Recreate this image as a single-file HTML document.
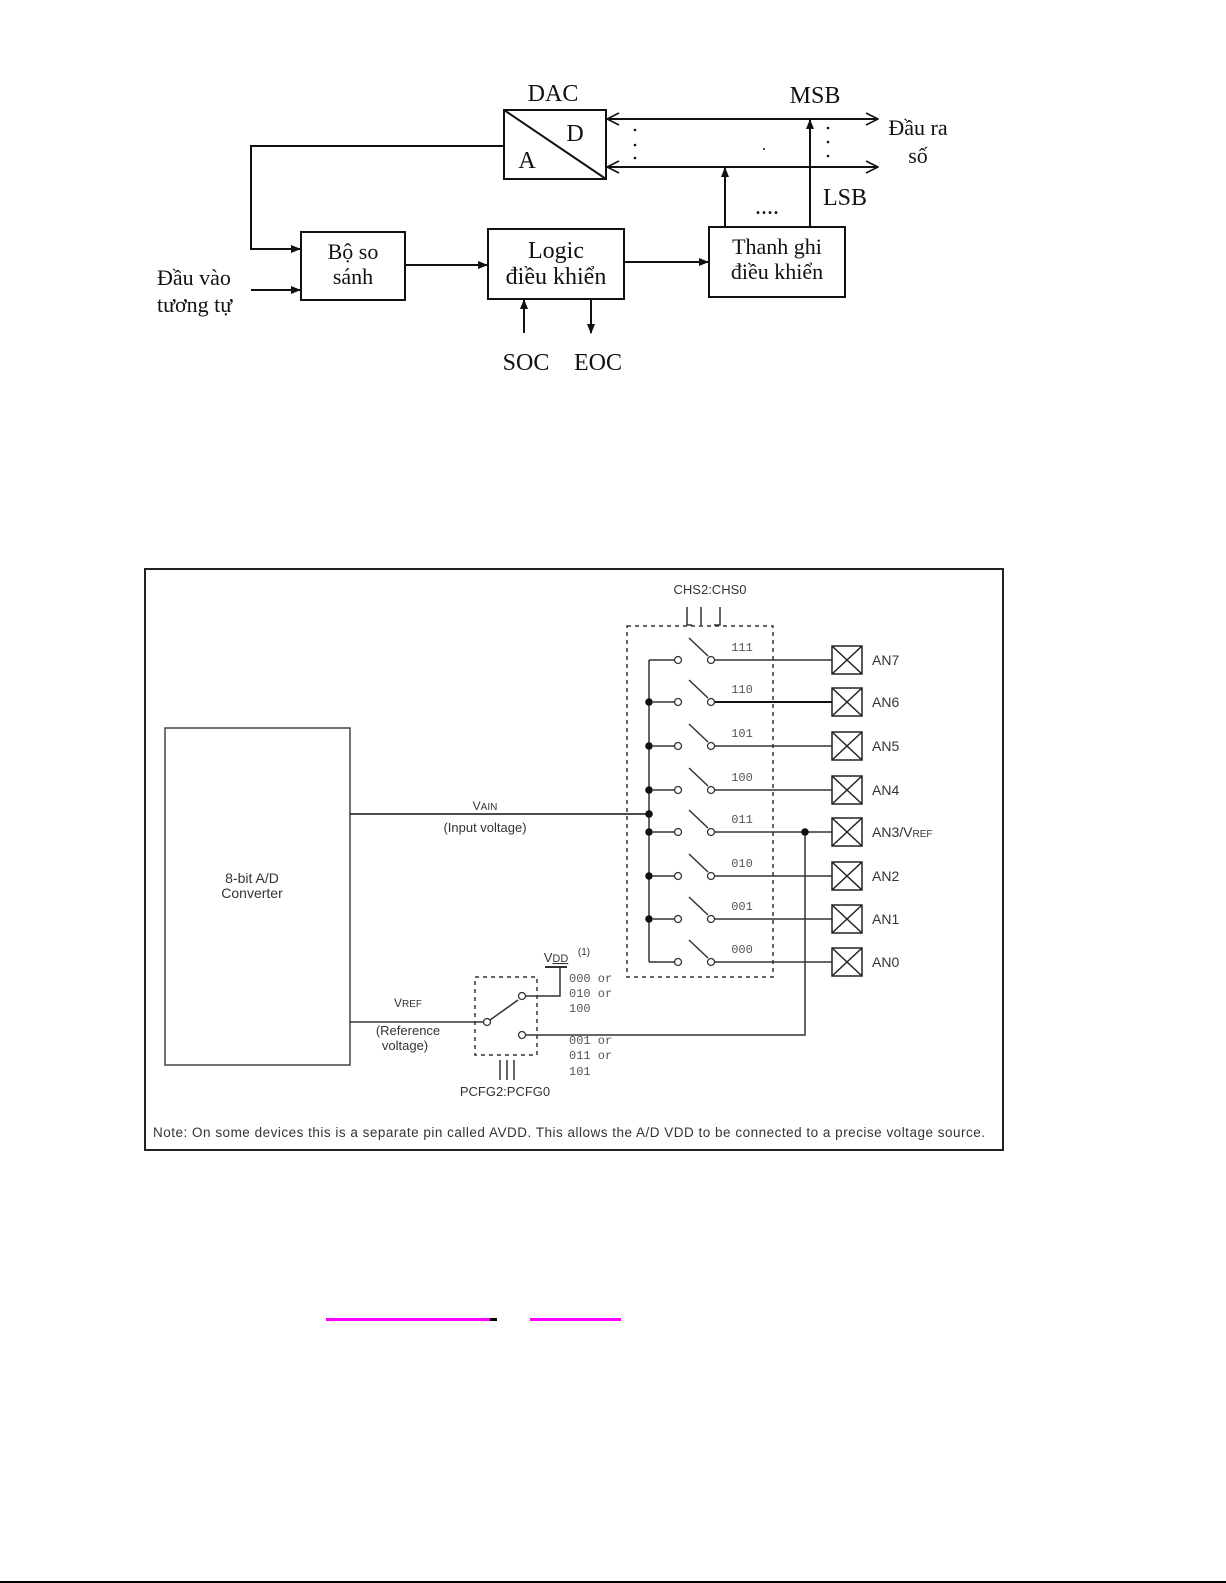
<!DOCTYPE html>
<html><head><meta charset="utf-8"><style>
html,body{margin:0;padding:0;background:#fff}
svg{display:block}
.s{font-family:"Liberation Serif",serif;fill:#111}
.a{font-family:"Liberation Sans",sans-serif;fill:#333}
.m{font-family:"Liberation Mono",monospace;fill:#555}
</style></head><body>
<svg width="1226" height="1583" viewBox="0 0 1226 1583" xmlns="http://www.w3.org/2000/svg">
<defs>
<marker id="ar" markerWidth="10" markerHeight="8" refX="9" refY="4" orient="auto" markerUnits="userSpaceOnUse"><path d="M0,0 L10,4 L0,8 z" fill="#111"/></marker>
<marker id="oa" markerWidth="14" markerHeight="14" refX="13" refY="7" orient="auto-start-reverse" markerUnits="userSpaceOnUse"><path d="M1,1 L13,7 L1,13" fill="none" stroke="#111" stroke-width="1.6"/></marker>
</defs>
<g stroke="#111" stroke-width="2" fill="none">
<rect x="504" y="110" width="102" height="69"/>
<line x1="504" y1="110" x2="606" y2="179"/>
<line x1="607" y1="119" x2="878" y2="119" marker-end="url(#oa)" marker-start="url(#oa)"/>
<line x1="607" y1="167" x2="878" y2="167" marker-end="url(#oa)" marker-start="url(#oa)"/>
<line x1="810" y1="227" x2="810" y2="120" marker-end="url(#ar)"/>
<line x1="725" y1="227" x2="725" y2="168" marker-end="url(#ar)"/>
<polyline points="504,146 251,146 251,249 300,249" marker-end="url(#ar)"/>
<line x1="251" y1="290" x2="300" y2="290" marker-end="url(#ar)"/>
<rect x="301" y="232" width="104" height="68"/>
<line x1="405" y1="265" x2="487" y2="265" marker-end="url(#ar)"/>
<rect x="488" y="229" width="136" height="70"/>
<line x1="624" y1="262" x2="708" y2="262" marker-end="url(#ar)"/>
<rect x="709" y="227" width="136" height="70"/>
<line x1="524" y1="333" x2="524" y2="300" marker-end="url(#ar)"/>
<line x1="591" y1="299" x2="591" y2="333" marker-end="url(#ar)"/>
</g>
<g fill="#111">
<circle cx="635" cy="130" r="1.3"/><circle cx="635" cy="145" r="1.3"/><circle cx="635" cy="158" r="1.3"/>
<circle cx="828" cy="128" r="1.3"/><circle cx="828" cy="142" r="1.3"/><circle cx="828" cy="156" r="1.3"/>
<circle cx="764" cy="149" r="1"/>
</g>
<g class="s" font-size="24">
<text x="553" y="101" text-anchor="middle">DAC</text>
<text x="575" y="141" text-anchor="middle">D</text>
<text x="527" y="168" text-anchor="middle">A</text>
<text x="815" y="103" text-anchor="middle">MSB</text>
<text x="845" y="205" text-anchor="middle">LSB</text>
<text x="767" y="214" text-anchor="middle">....</text>
<text x="918" y="135" text-anchor="middle" font-size="22">Đầu ra</text>
<text x="918" y="163" text-anchor="middle" font-size="22">số</text>
<text x="353" y="259" text-anchor="middle" font-size="22">Bộ so</text>
<text x="353" y="284" text-anchor="middle" font-size="22">sánh</text>
<text x="556" y="258" text-anchor="middle">Logic</text>
<text x="556" y="284" text-anchor="middle">điều khiển</text>
<text x="777" y="254" text-anchor="middle" font-size="22">Thanh ghi</text>
<text x="777" y="279" text-anchor="middle" font-size="22">điều khiển</text>
<text x="157" y="285" font-size="22">Đầu vào</text>
<text x="157" y="312" font-size="22">tương tự</text>
<text x="526" y="370" text-anchor="middle">SOC</text>
<text x="598" y="370" text-anchor="middle">EOC</text>
</g>

<rect x="145" y="569" width="858" height="581" fill="none" stroke="#222" stroke-width="2"/>
<rect x="165" y="728" width="185" height="337" fill="none" stroke="#444" stroke-width="1.5"/>
<g class="a" font-size="14" text-anchor="middle">
<text x="252" y="883">8-bit A/D</text>
<text x="252" y="898">Converter</text>
<text x="485" y="810" font-size="12">V<tspan font-size="10">AIN</tspan></text>
<text x="485" y="832" font-size="13">(Input voltage)</text>
<text x="408" y="1007" font-size="12">V<tspan font-size="10">REF</tspan></text>
<text x="408" y="1035" font-size="13">(Reference</text>
<text x="405" y="1050" font-size="13">voltage)</text>
<text x="710" y="594" font-size="13">CHS2:CHS0</text>
<text x="505" y="1096" font-size="13">PCFG2:PCFG0</text>
<text x="556" y="962" font-size="13">V<tspan font-size="11" text-decoration="underline">DD</tspan></text>
<text x="584" y="955" font-size="10">(1)</text>
</g>
<text x="153" y="1137" class="a" font-size="13.5" textLength="832">Note:  On some devices this is a separate pin called AVDD. This allows the A/D VDD to be connected to a precise voltage source.</text>

<g stroke="#333" stroke-width="1.5" fill="none">
<line x1="350" y1="814" x2="649" y2="814" stroke="#111"/>
<rect x="627" y="626" width="146" height="351" stroke-dasharray="4,4"/>
<line x1="649" y1="660" x2="649" y2="962"/>
<line x1="649" y1="660" x2="674" y2="660"/>
<line x1="649" y1="962" x2="674" y2="962"/>
<path d="M687,607 V625 H692 M701,607 V625 M720,607 V625 H714"/>
<polyline points="805,832 805,1035 526,1035"/>
<line x1="350" y1="1022" x2="483" y2="1022"/>
<rect x="475" y="977" width="62" height="78" stroke-dasharray="4,4"/>
<line x1="490" y1="1020" x2="518" y2="1000"/>
<polyline points="526,996 560,996 560,967"/>
<line x1="545" y1="967" x2="567" y2="967" stroke-width="2"/>
<path d="M500,1060 V1080 M507,1060 V1080 M514,1060 V1080"/>
</g>
<g fill="#fff" stroke="#333" stroke-width="1.3">
<circle cx="487" cy="1022" r="3.5"/><circle cx="522" cy="996" r="3.5"/><circle cx="522" cy="1035" r="3.5"/>
</g>
<g class="m" font-size="12">
<text x="569" y="982">000 or</text><text x="569" y="997">010 or</text><text x="569" y="1012">100</text>
<text x="569" y="1044">001 or</text><text x="569" y="1059">011 or</text><text x="569" y="1075">101</text>
</g>

<g stroke="#333" stroke-width="1.5" fill="none">
<path d="M653,702 H674 M653,746 H674 M653,790 H674 M653,832 H674 M653,876 H674 M653,919 H674"/>
<path d="M715,660 H832 M715,702 H832 M715,746 H832 M715,790 H832 M715,832 H832 M715,876 H832 M715,919 H832 M715,962 H832"/>
<path d="M708,656 L689,638 M708,698 L689,680 M708,742 L689,724 M708,786 L689,768 M708,828 L689,810 M708,872 L689,854 M708,915 L689,897 M708,958 L689,940"/>
<g stroke="#222">
<rect x="832" y="646" width="30" height="28"/><path d="M832,646 L862,674 M862,646 L832,674"/>
<rect x="832" y="688" width="30" height="28"/><path d="M832,688 L862,716 M862,688 L832,716"/>
<rect x="832" y="732" width="30" height="28"/><path d="M832,732 L862,760 M862,732 L832,760"/>
<rect x="832" y="776" width="30" height="28"/><path d="M832,776 L862,804 M862,776 L832,804"/>
<rect x="832" y="818" width="30" height="28"/><path d="M832,818 L862,846 M862,818 L832,846"/>
<rect x="832" y="862" width="30" height="28"/><path d="M832,862 L862,890 M862,862 L832,890"/>
<rect x="832" y="905" width="30" height="28"/><path d="M832,905 L862,933 M862,905 L832,933"/>
<rect x="832" y="948" width="30" height="28"/><path d="M832,948 L862,976 M862,948 L832,976"/>
</g>
</g>
<line x1="715" y1="702" x2="832" y2="702" stroke="#111" stroke-width="2"/>
<g fill="#fff" stroke="#333" stroke-width="1.3">
<circle cx="678" cy="660" r="3.5"/><circle cx="711" cy="660" r="3.5"/>
<circle cx="678" cy="702" r="3.5"/><circle cx="711" cy="702" r="3.5"/>
<circle cx="678" cy="746" r="3.5"/><circle cx="711" cy="746" r="3.5"/>
<circle cx="678" cy="790" r="3.5"/><circle cx="711" cy="790" r="3.5"/>
<circle cx="678" cy="832" r="3.5"/><circle cx="711" cy="832" r="3.5"/>
<circle cx="678" cy="876" r="3.5"/><circle cx="711" cy="876" r="3.5"/>
<circle cx="678" cy="919" r="3.5"/><circle cx="711" cy="919" r="3.5"/>
<circle cx="678" cy="962" r="3.5"/><circle cx="711" cy="962" r="3.5"/>
</g>
<g fill="#111">
<circle cx="649" cy="702" r="3.8"/><circle cx="649" cy="746" r="3.8"/><circle cx="649" cy="790" r="3.8"/>
<circle cx="649" cy="814" r="3.8"/><circle cx="649" cy="832" r="3.8"/><circle cx="649" cy="876" r="3.8"/>
<circle cx="649" cy="919" r="3.8"/><circle cx="805" cy="832" r="3.8"/>
</g>
<g class="m" font-size="12" text-anchor="middle">
<text x="742" y="651">111</text><text x="742" y="693">110</text><text x="742" y="737">101</text><text x="742" y="781">100</text>
<text x="742" y="823">011</text><text x="742" y="867">010</text><text x="742" y="910">001</text><text x="742" y="953">000</text>
</g>
<g class="a" font-size="14">
<text x="872" y="665">AN7</text><text x="872" y="707">AN6</text><text x="872" y="751">AN5</text><text x="872" y="795">AN4</text>
<text x="872" y="837">AN3/V<tspan font-size="10">REF</tspan></text><text x="872" y="881">AN2</text><text x="872" y="924">AN1</text><text x="872" y="967">AN0</text>
</g>

<rect x="326" y="1318" width="164" height="3" fill="#ff00ff"/>
<rect x="490" y="1318" width="7" height="3" fill="#000"/>
<rect x="530" y="1318" width="91" height="3" fill="#ff00ff"/>
<rect x="0" y="1581" width="1226" height="2" fill="#000"/>
</svg>
</body></html>
